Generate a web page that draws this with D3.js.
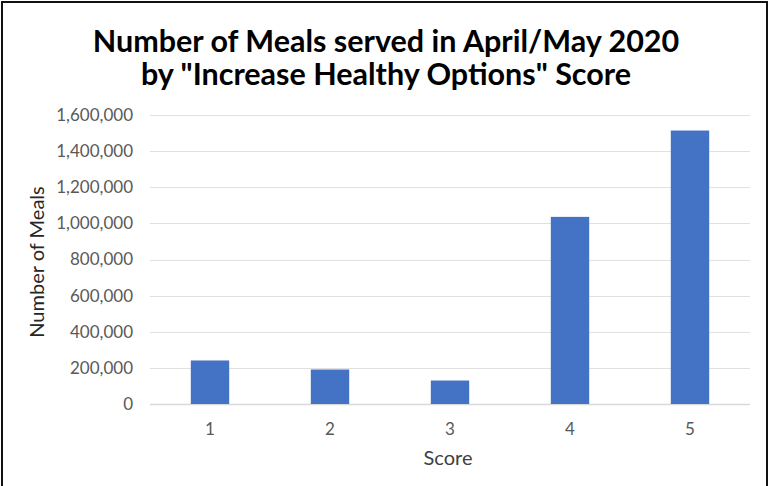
<!DOCTYPE html>
<html>
<head>
<meta charset="utf-8">
<script src="https://cdn.jsdelivr.net/npm/d3@7"></script>
<style>
  body { margin: 0; background: #fff; }
  svg { display: block; }
  text { font-family: "Lato", "DejaVu Sans", sans-serif; }
</style>
</head>
<body>
<script>
// chart data
const scores = ["1", "2", "3", "4", "5"];
const meals = [241000, 191000, 130000, 1036000, 1514000];
const yTicks = [0, 200000, 400000, 600000, 800000, 1000000, 1200000, 1400000, 1600000];
const titleLines = ["Number of Meals served in April/May 2020", "by \"Increase Healthy Options\" Score"];

const W = 769, H = 486;
const margin = { top: 115, right: 20, bottom: 82, left: 150 };
const width = 750 - margin.left;
const height = 404 - margin.top;

const svg = d3.select("body").append("svg")
    .attr("width", W)
    .attr("height", H);

// outer frame
svg.append("rect")
    .attr("x", 2).attr("y", 2)
    .attr("width", 765).attr("height", H + 10)
    .attr("fill", "none")
    .attr("stroke", "#111")
    .attr("stroke-width", 2);

// title
svg.append("text")
    .attr("text-anchor", "middle")
    .attr("font-weight", "bold")
    .attr("font-size", 30.5)
    .attr("fill", "#000")
    .selectAll("tspan")
    .data(titleLines)
    .enter()
    .append("tspan")
    .attr("x", 386)
    .attr("y", (d, i) => 52 + i * 33)
    .text(d => d);

const g = svg.append("g")
    .attr("transform", `translate(${margin.left},${margin.top})`);

const x = d3.scaleBand()
    .domain(scores)
    .range([0, width])
    .paddingInner(0.68)
    .paddingOuter(0.34);

const y = d3.scaleLinear()
    .domain([0, 1600000])
    .range([height, 0]);

// gridlines
g.selectAll(".grid")
    .data(yTicks)
    .enter()
    .append("line")
    .attr("x1", 0)
    .attr("x2", width)
    .attr("y1", d => Math.round(y(d)) + 0.5)
    .attr("y2", d => Math.round(y(d)) + 0.5)
    .attr("stroke", d => d === 0 ? "#d9d9d9" : "#e0e0e0")
    .attr("stroke-width", d => d === 0 ? 1.5 : 1);

// y axis labels
const yAxis = g.append("g")
    .call(d3.axisLeft(y).tickValues(yTicks).tickFormat(d3.format(",")).tickSize(0).tickPadding(17));
yAxis.select(".domain").remove();
yAxis.selectAll("text")
    .attr("font-size", 17)
    .attr("fill", "#595959")
    .style("font-family", "Lato, sans-serif");

// x axis labels
const xAxis = g.append("g")
    .attr("transform", `translate(0,${height})`)
    .call(d3.axisBottom(x).tickSize(0).tickPadding(19));
xAxis.select(".domain").remove();
xAxis.selectAll("text")
    .attr("font-size", 17)
    .attr("fill", "#595959")
    .style("font-family", "Lato, sans-serif");

// bars
g.selectAll(".bar")
    .data(meals)
    .enter()
    .append("rect")
    .attr("class", "bar")
    .attr("x", (d, i) => x(scores[i]))
    .attr("y", d => y(d))
    .attr("width", x.bandwidth())
    .attr("height", d => height - y(d))
    .attr("fill", "#4472C4");

// axis titles
svg.append("text")
    .attr("transform", "translate(44,262) rotate(-90)")
    .attr("text-anchor", "middle")
    .attr("font-size", 20)
    .attr("fill", "#262626")
    .text("Number of Meals");

svg.append("text")
    .attr("x", 448)
    .attr("y", 465)
    .attr("text-anchor", "middle")
    .attr("font-size", 20)
    .attr("fill", "#404040")
    .text("Score");
</script>
</body>
</html>
